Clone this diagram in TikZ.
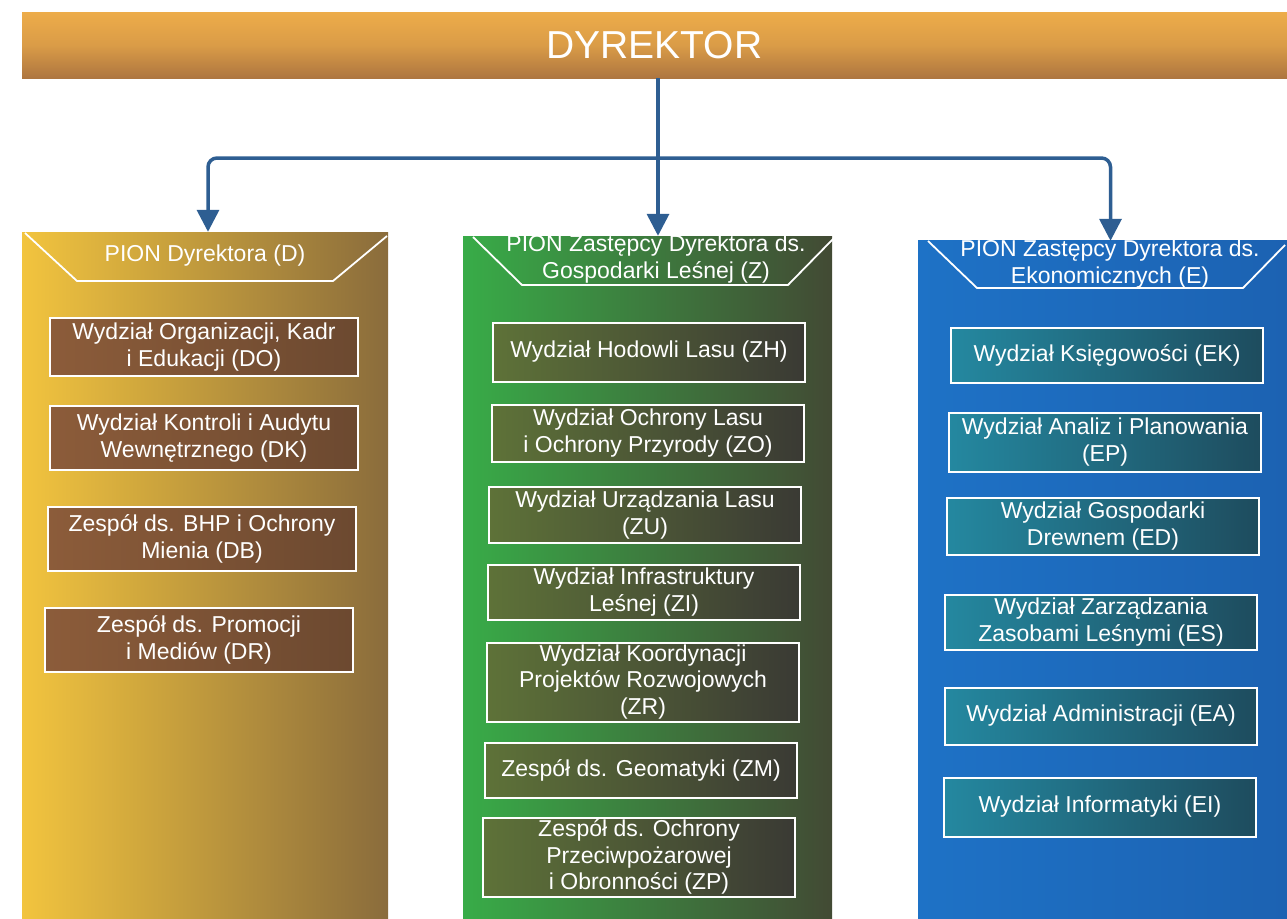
\documentclass[tikz,border=0pt]{standalone}
\usepackage{fontspec}
\setmainfont{Liberation Sans}
\usetikzlibrary{arrows.meta}
\definecolor{linkblue}{HTML}{2E5E92}
\definecolor{barTop}{HTML}{EDAC4A}
\definecolor{barBot}{HTML}{AE7640}
\definecolor{dL}{HTML}{F2C43E}
\definecolor{dR}{HTML}{8A6C3C}
\definecolor{dbL}{HTML}{8C5C3A}
\definecolor{dbR}{HTML}{6C4930}
\definecolor{zL}{HTML}{38AC48}
\definecolor{zR}{HTML}{424A34}
\definecolor{zbL}{HTML}{5E7238}
\definecolor{zbR}{HTML}{3A3A34}
\definecolor{eL}{HTML}{1E72C6}
\definecolor{eR}{HTML}{1C62B2}
\definecolor{ebL}{HTML}{2488A0}
\definecolor{ebR}{HTML}{1E4C5E}
\newcommand{\unitfont}{\fontsize{23}{26.5}\selectfont}
\tikzset{
  conn/.style={draw=linkblue, line width=3.5pt},
  arr/.style={conn, -{Triangle[width=22pt,length=22pt]}},
  bar/.style={inner sep=0pt, minimum width=1265pt, minimum height=66pt,
    top color=barTop, bottom color=barBot, middle color=barTop!70!barBot,
    text=white, font=\fontsize{39}{44}\selectfont},
  col/.style={inner sep=0pt, minimum width=366pt},
  hdrline/.style={draw=white, line width=1.8pt, line join=round},
  hdrtext/.style={text=white, align=center, font=\unitfont, inner sep=0pt},
  unit/.style={draw=white, line width=2pt, text=white, align=center,
    inner sep=0pt, font=\unitfont, minimum width=310pt},
  unitD/.style={unit, minimum width=308pt, left color=dbL, right color=dbR},
  unitZ/.style={unit, minimum width=312pt, left color=zbL, right color=zbR},
  unitE/.style={unit, minimum width=312pt, left color=ebL, right color=ebR},
}
\begin{document}
\begin{tikzpicture}[x=1pt, y=-1pt]
\useasboundingbox (0,0) rectangle (1287,918);
\fill[white] (0,0) rectangle (1287,918);

% top bar
\node[bar] (dyr) at (654.5,45) {DYREKTOR};

% columns
\node[col, minimum height=686pt, left color=dL, right color=dR] (colD) at (205,575) {};
\node[col, minimum width=369pt, minimum height=682pt, left color=zL, right color=zR] (colZ) at (647.5,577) {};
\node[col, minimum width=369pt, minimum height=678pt, left color=eL, right color=eR] (colE) at (1102.5,579) {};

% header outlines
\draw[hdrline] (25,233) -- (77,281) -- (333,281) -- (387,236);
\draw[hdrline] (473,237) -- (522,285) -- (788,285) -- (834,238);
\draw[hdrline] (928,241) -- (977,288) -- (1243,288) -- (1285,245);

% header texts
\node[hdrtext] (hD) at (205,256) {PION Dyrektora (D)};
\node[hdrtext] (hZ) at (656,259) {PION Zastępcy Dyrektora ds.\\Gospodarki Leśnej (Z)};
\node[hdrtext] (hE) at (1110,264) {PION Zastępcy Dyrektora ds.\\Ekonomicznych (E)};

% column D units
\node[unitD, minimum height=58pt] (DO) at (204,347) {Wydział Organizacji, Kadr\\i Edukacji (DO)};
\node[unitD, minimum height=64pt] (DK) at (204,438) {Wydział Kontroli i Audytu\\Wewnętrznego (DK)};
\node[unitD, minimum height=64pt] (DB) at (202,539) {Zespół ds. BHP i Ochrony\\Mienia (DB)};
\node[unitD, minimum height=64pt] (DR) at (199,640) {Zespół ds. Promocji\\i Mediów (DR)};

% column Z units
\node[unitZ, minimum height=59pt] (ZH) at (649,352) {Wydział Hodowli Lasu (ZH)};
\node[unitZ, minimum height=57pt] (ZO) at (648,433) {Wydział Ochrony Lasu\\i Ochrony Przyrody (ZO)};
\node[unitZ, minimum height=56pt] (ZU) at (645,515) {Wydział Urządzania Lasu\\(ZU)};
\node[unitZ, minimum height=55pt] (ZI) at (644,592) {Wydział Infrastruktury\\Leśnej (ZI)};
\node[unitZ, minimum height=79pt] (ZR) at (643,682) {Wydział Koordynacji\\Projektów Rozwojowych\\(ZR)};
\node[unitZ, minimum height=55pt] (ZM) at (641,770) {Zespół ds. Geomatyki (ZM)};
\node[unitZ, minimum height=79pt] (ZP) at (639,857) {Zespół ds. Ochrony\\Przeciwpożarowej\\i Obronności (ZP)};

% column E units
\node[unitE, minimum height=55pt] (EK) at (1107,355) {Wydział Księgowości (EK)};
\node[unitE, minimum height=59pt] (EP) at (1105,442) {Wydział Analiz i Planowania\\(EP)};
\node[unitE, minimum height=57pt] (ED) at (1103,526) {Wydział Gospodarki\\Drewnem (ED)};
\node[unitE, minimum height=55pt] (ES) at (1101,622) {Wydział Zarządzania\\Zasobami Leśnymi (ES)};
\node[unitE, minimum height=57pt] (EA) at (1101,716) {Wydział Administracji (EA)};
\node[unitE, minimum height=59pt] (EI) at (1100,807) {Wydział Informatyki (EI)};

% connectors
\coordinate (j) at (658,158);
\draw[conn] (dyr.south -| j) -- (j);
\draw[arr, rounded corners=9pt] (j) -| ([xshift=3pt]colD.north);
\draw[arr] (j) -- (colZ.north -| j);
\draw[arr, rounded corners=9pt] (j) -| ([xshift=8pt,yshift=-1pt]colE.north);
\end{tikzpicture}
\end{document}
